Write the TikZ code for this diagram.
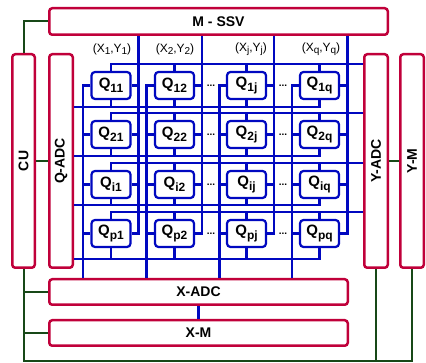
\documentclass[tikz,border=0pt]{standalone}
\usepackage{fontspec}
\setmainfont{Liberation Sans}
\definecolor{boxred}{RGB}{192,0,58}
\definecolor{wireblue}{RGB}{0,8,192}
\definecolor{ctrlgreen}{RGB}{24,72,24}
\newcommand{\qlab}[1]{\fontsize{15}{15}\selectfont\bfseries Q\raisebox{-4pt}{\fontsize{12}{12}\selectfont #1}}
\newcommand{\xylab}[1]{(X\raisebox{-2.5pt}{\fontsize{10}{10}\selectfont #1},Y\raisebox{-2.5pt}{\fontsize{10}{10}\selectfont #1})}

\begin{document}
\begin{tikzpicture}[x=1pt,y=-1pt,
    block/.style={draw=boxred,line width=2.5pt,rounded corners=3pt,inner sep=0pt,
      font=\fontsize{14}{14}\selectfont\bfseries},
    vtext/.style={rotate=90,font=\fontsize{14}{14}\selectfont\bfseries},
    cell/.style={draw=wireblue,fill=white,line width=2.2pt,rounded corners=3.5pt,
      minimum width=39pt,minimum height=27pt,inner sep=0pt},
    xytext/.style={font=\fontsize{12}{12}\selectfont,inner sep=0pt},
    dots/.style={font=\fontsize{10}{10}\selectfont\bfseries,inner sep=0pt},
    wire/.style={wireblue,line width=2.2pt},
    ctrl/.style={ctrlgreen,line width=2pt}]

\useasboundingbox (0,0) rectangle (426,363);

% blocks
\node[block,minimum width=338.5pt,minimum height=26.5pt] (mssv) at (218.5,21.5) {M - SSV};
\node[block,minimum width=22.5pt,minimum height=213.5pt,label={[vtext]center:CU}] (cu) at (23.5,161) {};
\node[block,minimum width=23.5pt,minimum height=213.5pt,label={[vtext]center:Q-ADC}] (qadc) at (61,161) {};
\node[block,minimum width=23.5pt,minimum height=213.5pt,label={[vtext]center:Y-ADC}] (yadc) at (376,161) {};
\node[block,minimum width=23.5pt,minimum height=213.5pt,label={[vtext]center:Y-M}] (ym) at (412,161) {};
\node[block,minimum width=298.5pt,minimum height=25.5pt] (xadc) at (198.5,292) {X-ADC};
\node[block,minimum width=298.5pt,minimum height=25.5pt] (xm) at (198.5,333) {X-M};

% cells
\foreach \i/\ri/\y in {1/1/85.5,2/2/134.5,3/i/184.5,4/p/233.5}
  \foreach \j/\rj/\x in {1/1/111,2/2/174.5,3/j/246.5,4/q/319.5}
    \node[cell] (q\i\j) at (\x,\y) {\qlab{\ri\rj}};

\foreach \i/\y in {1/85.5,2/134.5,3/184.5,4/233.5} {
  \node[dots] (da\i) at (211,\y) {...};
  \node[dots] (db\i) at (283,\y) {...};
}

% column labels
\node[xytext] (xy1) at (112,49) {\xylab{1}};
\node[xytext] (xy2) at (175,49) {\xylab{2}};
\node[xytext] (xy3) at (251,49) {\xylab{j}};
\node[xytext] (xy4) at (321,49) {\xylab{q}};

% line levels
\coordinate (t1) at (0,64);
\coordinate (t2) at (0,113);
\coordinate (t3) at (0,163);
\coordinate (t4) at (0,212);
\coordinate (b1) at (0,107);
\coordinate (b2) at (0,156);
\coordinate (b3) at (0,205);
\coordinate (b4) at (0,259);
\coordinate (l1) at (83,0);
\coordinate (l2) at (146.5,0);
\coordinate (l3) at (219.5,0);
\coordinate (l4) at (292,0);
\coordinate (r1) at (138.5,0);
\coordinate (r2) at (202,0);
\coordinate (r3) at (274,0);
\coordinate (r4) at (347.5,0);
\coordinate (bot) at (0,361.5);

% rows and columns
\foreach \n in {1,...,4} {
  \draw[wire] (q\n1.north) |- (yadc.west |- t\n);
  \draw[wire] (qadc.east |- b\n) -| (q\n4.south);
  \draw[wire] (mssv.south -| r\n) |- (q4\n.east);
  \draw[wire] (q1\n.west) -| (xadc.north -| l\n);
}
\foreach \i in {1,...,4}
  \foreach \j in {1,...,4} {
    \draw[wire] (q\i\j.north) -- (q\i\j.north |- t\i);
    \draw[wire] (q\i\j.south) -- (q\i\j.south |- b\i);
    \draw[wire] (q\i\j.east) -- (q\i\j.east -| r\j);
    \draw[wire] (q\i\j.west) -- (q\i\j.west -| l\j);
  }
\draw[wire] (xadc.south) -- (xm.north);

% control lines
\draw[ctrl] (cu.north) |- (mssv.west);
\draw[ctrl] (cu.east) -- (qadc.west);
\draw[ctrl] (yadc.east) -- (ym.west);
\draw[ctrl] (cu.south) |- (ym.south |- bot) -- (ym.south);
\draw[ctrl] (yadc.south) -- (yadc.south |- bot);
\draw[ctrl] (xadc.west) -- (xadc.west -| cu.south);
\draw[ctrl] (xm.west) -- (xm.west -| cu.south);
\end{tikzpicture}
\end{document}
